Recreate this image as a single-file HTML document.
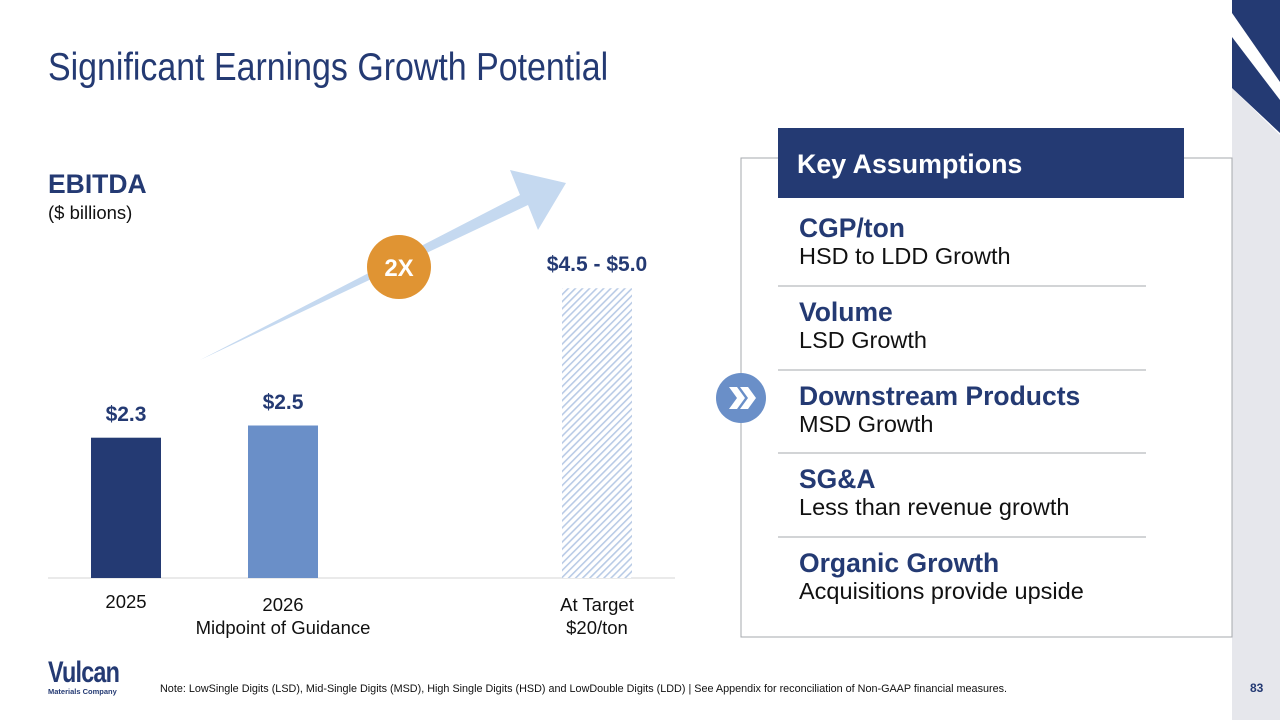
<!DOCTYPE html>
<html><head><meta charset="utf-8"><style>
body{margin:0;width:1280px;height:720px;overflow:hidden;background:#fff;font-family:"Liberation Sans",sans-serif;position:relative}
.a{position:absolute}
.h{color:#243a73;font-weight:bold;font-size:26.5px;line-height:29px}
.s{color:#111;font-size:23.5px;line-height:27px}
</style></head><body>
<svg class="a" style="left:0;top:0" width="1280" height="720">
<defs><pattern id="hatch" width="5" height="5" patternUnits="userSpaceOnUse" patternTransform="rotate(45)"><rect width="5" height="5" fill="#fff"/><rect width="1.6" height="5" fill="#b9cbe6"/></pattern></defs>
<polygon points="1232,88 1280,135 1280,720 1232,720" fill="#e6e7ec"/>
<polygon points="1232,0 1280,0 1280,82 1232,13" fill="#243a73"/>
<polygon points="1232,37 1280,100 1280,133 1232,88" fill="#243a73"/>
<polygon points="200,360 520,195 510,170 566,183 538,230 528,205" fill="#c5d9f0"/>
<circle cx="399" cy="267" r="32" fill="#e09433"/>
<text x="399" y="276" text-anchor="middle" fill="#fff" font-weight="bold" font-size="24" font-family="Liberation Sans">2X</text>
<line x1="48" y1="578" x2="675" y2="578" stroke="#d6d6d6" stroke-width="1"/>
<g id="bars"></g>
<rect x="741" y="158" width="491" height="479" fill="none" stroke="#a5a8ad" stroke-width="1"/>
<rect x="778" y="128" width="406" height="70" fill="#243a73"/>
<text x="797" y="173" fill="#fff" font-weight="bold" font-size="26.8" font-family="Liberation Sans">Key Assumptions</text>
<g stroke="#a5a8ad" stroke-width="1"><line x1="778" y1="286" x2="1146" y2="286"/><line x1="778" y1="370" x2="1146" y2="370"/><line x1="778" y1="453" x2="1146" y2="453"/><line x1="778" y1="537" x2="1146" y2="537"/></g>
<circle cx="741" cy="398" r="25" fill="#6a8fc8"/>
<path d="M729,387 L737,387 L745,398 L737,409 L729,409 L737,398 Z M740,387 L748,387 L756,398 L748,409 L740,409 L748,398 Z" fill="#fff"/>
</svg>
<div class="a" style="left:48px;top:46px;font-size:39px;color:#243a73;transform:scaleX(0.87);transform-origin:0 0;white-space:nowrap">Significant Earnings Growth Potential</div>
<div class="a" style="left:48px;top:169px;font-size:26.5px;font-weight:bold;color:#243a73">EBITDA</div>
<div class="a" style="left:48px;top:202px;font-size:18.5px;color:#111">($ billions)</div>
<div id="labels"></div>
<div class="a" style="left:799px;top:214px"><div class="h">CGP/ton</div><div class="s">HSD to LDD Growth</div></div>
<div class="a" style="left:799px;top:298px"><div class="h">Volume</div><div class="s">LSD Growth</div></div>
<div class="a" style="left:799px;top:382px"><div class="h">Downstream Products</div><div class="s">MSD Growth</div></div>
<div class="a" style="left:799px;top:465px"><div class="h">SG&amp;A</div><div class="s">Less than revenue growth</div></div>
<div class="a" style="left:799px;top:549px"><div class="h">Organic Growth</div><div class="s">Acquisitions provide upside</div></div>
<div class="a" style="left:48px;top:660px;color:#243a73"><div style="font-size:30px;font-weight:bold;line-height:26px;letter-spacing:-1px;transform:scaleX(0.78);transform-origin:0 0;white-space:nowrap">Vulcan</div><div style="font-size:7.5px;font-weight:bold;margin-top:1px">Materials Company</div></div>
<div class="a" style="left:160px;top:683px;font-size:10.6px;color:#111;white-space:nowrap;transform:scaleX(1.02);transform-origin:0 0">Note: LowSingle Digits (LSD), Mid-Single Digits (MSD), High Single Digits (HSD) and LowDouble Digits (LDD) | See Appendix for reconciliation of Non-GAAP financial measures.</div>
<div class="a" style="left:1250px;top:681px;font-size:12px;font-weight:bold;color:#243a73">83</div>
<script>
const categories=["2025","2026\nMidpoint of Guidance","At Target\n$20/ton"];
const values=[2.3,2.5,4.75];
const valueLabels=["$2.3","$2.5","$4.5 - $5.0"];
const fills=["#243a73","#6a8fc8","url(#hatch)"];
const centers=[126,283,597];
const base=578, scale=61, bw=70;
const y=v=>base-v*scale;
const g=document.getElementById('bars'), L=document.getElementById('labels');
values.forEach((v,i)=>{
 const r=document.createElementNS('http://www.w3.org/2000/svg','rect');
 r.setAttribute('x',centers[i]-bw/2);r.setAttribute('y',y(v));r.setAttribute('width',bw);r.setAttribute('height',base-y(v));r.setAttribute('fill',fills[i]);
 
 
 g.appendChild(r);
 const d=document.createElement('div');d.className='a';
 d.style.cssText=`left:${centers[i]-100}px;width:200px;text-align:center;top:${y(v)-35}px;font-size:21px;font-weight:bold;color:#243a73`;
 d.textContent=valueLabels[i];
 
 
 L.appendChild(d);
 const c=document.createElement('div');c.className='a';
 c.style.cssText=`left:${centers[i]-120}px;width:240px;text-align:center;top:${i==0?590:593}px;font-size:18.5px;color:#111;line-height:23px;white-space:pre`;
 c.textContent=categories[i];
 
 
 L.appendChild(c);
});
</script>
</body></html>
